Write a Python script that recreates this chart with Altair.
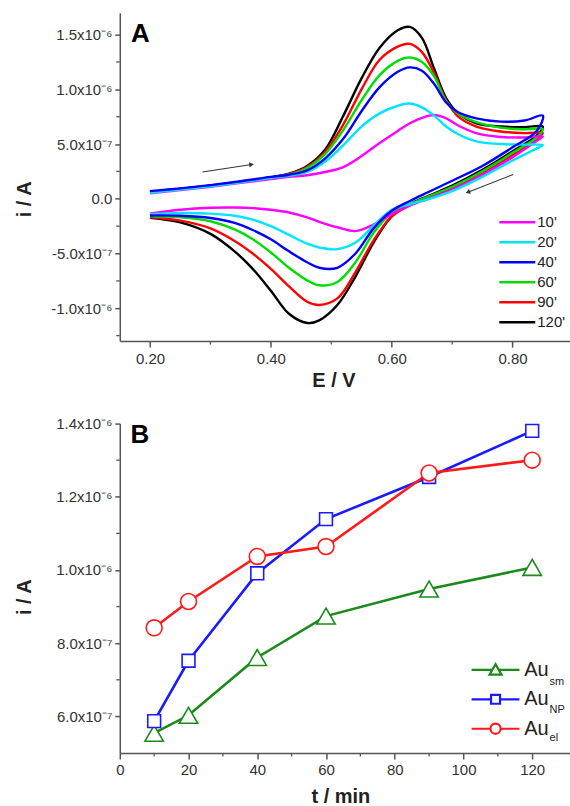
import altair as alt
import pandas as pd

FONT = "Liberation Sans"
AX = "#555555"

# ---------------- Panel A: cyclic voltammograms (current in microampere) ----------------
curves_a = ["10'", "20'", "40'", "60'", "90'", "120'"]
colors_a = ["#ff00ff", "#00e5ff", "#0000ff", "#00dd00", "#ff0000", "#000000"]
draw_order_a = ["120'", "90'", "60'", "10'", "20'", "40'"]

E_fwd = [0.20, 0.25, 0.30, 0.35, 0.40, 0.43, 0.46, 0.49, 0.52, 0.55, 0.58,
         0.61, 0.63, 0.65, 0.67, 0.69, 0.71, 0.74, 0.78, 0.82, 0.85]
E_rev = [0.84, 0.80, 0.75, 0.70, 0.66, 0.63, 0.60, 0.57, 0.54, 0.51, 0.48,
         0.46, 0.43, 0.40, 0.37, 0.34, 0.30, 0.25, 0.20]

fwd_10 = [0.05, 0.08, 0.11, 0.145, 0.18, 0.20, 0.215, 0.245, 0.29, 0.39, 0.51,
          0.62, 0.69, 0.74, 0.765, 0.735, 0.67, 0.60, 0.565, 0.56, 0.57]
rev_10 = [0.53, 0.38, 0.22, 0.085, 0.0, -0.06, -0.14, -0.235, -0.295, -0.26, -0.21,
          -0.17, -0.125, -0.10, -0.085, -0.08, -0.082, -0.10, -0.135]
fwd_20 = [0.055, 0.085, 0.115, 0.15, 0.19, 0.21, 0.245, 0.34, 0.49, 0.66, 0.78,
          0.85, 0.87, 0.835, 0.76, 0.66, 0.59, 0.525, 0.50, 0.495, 0.49]
rev_20 = [0.46, 0.35, 0.20, 0.07, -0.005, -0.05, -0.10, -0.245, -0.40, -0.46, -0.445,
          -0.41, -0.33, -0.25, -0.19, -0.155, -0.135, -0.13, -0.143]
fwd_40 = [0.07, 0.095, 0.125, 0.16, 0.20, 0.22, 0.26, 0.37, 0.55, 0.80, 1.02,
          1.16, 1.20, 1.17, 1.05, 0.88, 0.79, 0.735, 0.705, 0.715, 0.76]
rev_40 = [0.62, 0.47, 0.30, 0.165, 0.06, -0.02, -0.11, -0.27, -0.50, -0.63, -0.63,
          -0.58, -0.48, -0.37, -0.285, -0.22, -0.175, -0.155, -0.152]
fwd_60 = [0.06, 0.09, 0.12, 0.155, 0.195, 0.22, 0.28, 0.41, 0.63, 0.90, 1.13,
          1.26, 1.29, 1.25, 1.12, 0.89, 0.78, 0.70, 0.65, 0.635, 0.635]
rev_60 = [0.56, 0.42, 0.252, 0.11, 0.02, -0.05, -0.13, -0.31, -0.58, -0.76, -0.79,
          -0.745, -0.63, -0.49, -0.37, -0.28, -0.205, -0.17, -0.161]
fwd_90 = [0.06, 0.09, 0.12, 0.155, 0.195, 0.225, 0.29, 0.43, 0.68, 1.00, 1.27,
          1.39, 1.415, 1.34, 1.15, 0.90, 0.75, 0.66, 0.615, 0.60, 0.60]
rev_90 = [0.55, 0.40, 0.24, 0.10, 0.01, -0.06, -0.16, -0.38, -0.67, -0.91, -0.97,
          -0.94, -0.80, -0.64, -0.50, -0.385, -0.27, -0.20, -0.168]
fwd_120 = [0.06, 0.09, 0.12, 0.155, 0.195, 0.23, 0.30, 0.45, 0.76, 1.10, 1.38,
           1.54, 1.57, 1.47, 1.19, 0.92, 0.78, 0.69, 0.66, 0.655, 0.66]
rev_120 = [0.58, 0.434, 0.264, 0.12, 0.025, -0.05, -0.16, -0.40, -0.71, -0.97, -1.11,
           -1.135, -1.05, -0.84, -0.64, -0.48, -0.32, -0.215, -0.173]

cv_fwd = {"10'": fwd_10, "20'": fwd_20, "40'": fwd_40, "60'": fwd_60, "90'": fwd_90, "120'": fwd_120}
cv_rev = {"10'": rev_10, "20'": rev_20, "40'": rev_40, "60'": rev_60, "90'": rev_90, "120'": rev_120}

# scan-direction arrows (potential in V, current in microampere)
arrow_E0 = [0.287, 0.801]
arrow_E1 = [0.368, 0.726]
arrow_i0 = [0.245, 0.222]
arrow_i1 = [0.313, 0.060]
arrow_angle = [352.4, 158.5]

xa_ticks = [0.2, 0.4, 0.6, 0.8]
xa_minor = [0.3, 0.5, 0.7]
ya_ticks = [-1.0e-6, -5.0e-7, 0.0, 5.0e-7, 1.0e-6, 1.5e-6]
ya_labels = ["-1.0x10\u207b\u2076", "-5.0x10\u207b\u2077", "0.0",
             "5.0x10\u207b\u2077", "1.0x10\u207b\u2076", "1.5x10\u207b\u2076"]
ya_minor = [-1.25e-6, -7.5e-7, -2.5e-7, 2.5e-7, 7.5e-7, 1.25e-6]

# ---------------- Panel B: peak current vs time ----------------
t_min = [10, 20, 40, 60, 90, 120]
i_sm = [5.54e-7, 6.03e-7, 7.61e-7, 8.74e-7, 9.48e-7, 1.007e-6]
i_np = [5.87e-7, 7.52e-7, 9.91e-7, 1.139e-6, 1.254e-6, 1.380e-6]
i_el = [8.42e-7, 9.14e-7, 1.037e-6, 1.064e-6, 1.265e-6, 1.300e-6]
series_b = ["Au_sm", "Au_NP", "Au_el"]
subs_b = ["sm", "NP", "el"]
colors_b = ["#1a8a1a", "#1a1aff", "#ff1a1a"]

xb_ticks = [0, 20, 40, 60, 80, 100, 120]
xb_minor = [10, 30, 50, 70, 90, 110]
yb_ticks = [6.0e-7, 8.0e-7, 1.0e-6, 1.2e-6, 1.4e-6]
yb_labels = ["6.0x10\u207b\u2077", "8.0x10\u207b\u2077", "1.0x10\u207b\u2076",
             "1.2x10\u207b\u2076", "1.4x10\u207b\u2076"]
yb_minor = [7.0e-7, 9.0e-7, 1.1e-6, 1.3e-6]

# ---------------- layout constants ----------------
W = 451
HA = 329
HB = 330


def label_expr(vals, labels):
    expr = "''"
    for v, l in reversed(list(zip(vals, labels))):
        expr = f"abs(datum.value - ({v:.4e})) < 1e-10 ? '{l}' : {expr}"
    return expr


axis_style = dict(domainColor=AX, domainWidth=1.5, tickColor=AX, tickWidth=1.5,
                  labelFont=FONT, labelFontSize=15, labelColor="#333333",
                  titleFont=FONT, titleFontSize=20, titleFontWeight="bold",
                  titleColor="#222222", grid=False, labelFlush=False, labelOverlap=False)

# ---------------- build panel A ----------------
rows = []
for c in draw_order_a:
    pts = list(zip(E_fwd, cv_fwd[c])) + list(zip(E_rev, cv_rev[c]))
    for k, (e, i) in enumerate(pts):
        rows.append({"curve": c, "E": e, "i": i * 1e-6, "k": k})
df_a = pd.DataFrame(rows)

xa_scale = alt.Scale(domain=[0.15, 0.895], nice=False, zero=False)
ya_scale = alt.Scale(domain=[-1.3e-6, 1.7e-6], nice=False, zero=False)

xa = alt.X("E:Q", scale=xa_scale,
           axis=alt.Axis(values=xa_ticks, format=".2f", title="E / V", tickSize=6,
                         labelPadding=4, titleBaseline="middle", titleY=39.5, titleX=214,
                         **axis_style))
ya = alt.Y("i:Q", scale=ya_scale,
           axis=alt.Axis(values=ya_ticks, labelExpr=label_expr(ya_ticks, ya_labels),
                         title="i / A", tickSize=5, labelPadding=3, titleAngle=270,
                         titleAlign="center", titleBaseline="middle", titleX=-95,
                         titleY=186.5, **axis_style))
color_a = alt.Scale(domain=curves_a, range=colors_a)
col_of_a = dict(zip(curves_a, colors_a))

line_layers_a = []
for n, c in enumerate(draw_order_a):
    enc = dict(x=xa, y=ya) if n == 0 else dict(x=alt.X("E:Q", scale=xa_scale),
                                              y=alt.Y("i:Q", scale=ya_scale))
    line_layers_a.append(
        alt.Chart(df_a).transform_filter(alt.datum.curve == c).mark_line(
            strokeWidth=2.4, interpolate="catmull-rom", color=col_of_a[c]).encode(
            order="k:Q", **enc))

LINE_PATH = "M-3,0H3"
leg_a = dict(title=None, orient="none", legendX=390.7, legendY=202.5, direction="vertical",
             symbolSize=144, symbolStrokeWidth=2.5, symbolOpacity=1, labelFont=FONT,
             labelFontSize=15, labelColor="#222222", labelOffset=12.5, rowPadding=4, padding=0)
legend_layer_a = alt.Chart(df_a).mark_point(filled=False, strokeWidth=2.5, opacity=0).encode(
    x=alt.X("E:Q", scale=xa_scale), y=alt.Y("i:Q", scale=ya_scale),
    color=alt.Color("curve:N", scale=color_a, legend=alt.Legend(**leg_a)),
    shape=alt.Shape("curve:N", scale=alt.Scale(domain=curves_a, range=[LINE_PATH] * 6),
                    legend=alt.Legend(**leg_a)))

minor_xa = alt.Chart(pd.DataFrame({"v": xa_minor})).mark_rule(color=AX, strokeWidth=1.3).encode(
    x=alt.X("v:Q", scale=xa_scale), y=alt.value(HA), y2=alt.value(HA + 3.5))
minor_ya = alt.Chart(pd.DataFrame({"v": ya_minor})).mark_rule(color=AX, strokeWidth=1.3).encode(
    y=alt.Y("v:Q", scale=ya_scale), x=alt.value(0), x2=alt.value(-3.5))

df_arrow = pd.DataFrame({"E0": arrow_E0, "E1": arrow_E1,
                         "i0": [v * 1e-6 for v in arrow_i0], "i1": [v * 1e-6 for v in arrow_i1],
                         "ang": arrow_angle})
arrows = alt.Chart(df_arrow).mark_rule(color="#333333", strokeWidth=1.1).encode(
    x=alt.X("E0:Q", scale=xa_scale), x2="E1:Q",
    y=alt.Y("i0:Q", scale=ya_scale), y2="i1:Q")
heads = alt.Chart(df_arrow).mark_point(shape="triangle-right", filled=True, color="#333333",
                                       size=28, opacity=1).encode(
    x=alt.X("E1:Q", scale=xa_scale), y=alt.Y("i1:Q", scale=ya_scale),
    angle=alt.Angle("ang:Q", scale=None))

letter_a = alt.Chart(pd.DataFrame({"t": ["A"]})).mark_text(
    font=FONT, fontSize=26, fontWeight="bold", align="center", baseline="middle",
    color="black").encode(text="t:N", x=alt.value(20.7), y=alt.value(21.5))

panel_a = alt.layer(*line_layers_a, minor_xa, minor_ya, arrows, heads, letter_a,
                    legend_layer_a).properties(width=W, height=HA)

# ---------------- build panel B ----------------
rows_b = []
for s, vals in zip(series_b, [i_sm, i_np, i_el]):
    for t, v in zip(t_min, vals):
        rows_b.append({"series": s, "t": t, "i": v})
df_b = pd.DataFrame(rows_b)

xb_scale = alt.Scale(domain=[0, 131], nice=False, zero=False)
yb_scale = alt.Scale(domain=[5.0e-7, 1.4e-6], nice=False, zero=False)
color_b = alt.Scale(domain=series_b, range=colors_b)

xb = alt.X("t:Q", scale=xb_scale,
           axis=alt.Axis(values=xb_ticks, format="d", title="t / min", tickSize=6,
                         labelPadding=4, titleBaseline="middle", titleY=43.7, titleX=221,
                         **axis_style))
yb = alt.Y("i:Q", scale=yb_scale,
           axis=alt.Axis(values=yb_ticks, labelExpr=label_expr(yb_ticks, yb_labels),
                         title="i / A", tickSize=5, labelPadding=3, titleAngle=270,
                         titleAlign="center", titleBaseline="middle", titleX=-95,
                         titleY=173.4, **axis_style))

shapes_b = ["triangle-up", "square", "circle"]
sizes_b = [340, 165, 255]
line_layers_b = []
point_layers = []
for n, (s, shp, col, sz) in enumerate(zip(series_b, shapes_b, colors_b, sizes_b)):
    enc = dict(x=xb, y=yb) if n == 0 else dict(x=alt.X("t:Q", scale=xb_scale),
                                              y=alt.Y("i:Q", scale=yb_scale))
    line_layers_b.append(
        alt.Chart(df_b).transform_filter(alt.datum.series == s).mark_line(
            strokeWidth=2.6, color=col).encode(**enc))
    point_layers.append(
        alt.Chart(df_b).transform_filter(alt.datum.series == s).mark_point(
            shape=shp, filled=True, fill="white", stroke=col, strokeWidth=1.6, size=sz,
            opacity=1).encode(x=alt.X("t:Q", scale=xb_scale),
                              y=alt.Y("i:Q", scale=yb_scale)))

TRI = "M-4,0H-0.54M0.54,0H4M0,-0.95L1,0.8H-1Z"
SQR = "M-4,0H-0.75M0.75,0H4M-0.75,-0.75H0.75V0.75H-0.75Z"
CIR = "M-4,0H-0.85M0.85,0H4M-0.85,0A0.85,0.85,0,1,0,0.85,0A0.85,0.85,0,1,0,-0.85,0Z"
leg_b = dict(title=None, orient="none", legendX=366.4, legendY=236.7, direction="vertical",
             symbolSize=144, symbolStrokeWidth=2.2, symbolOpacity=1, labelFont=FONT,
             labelFontSize=20, labelColor="#222222", labelOffset=18.8, rowPadding=9.5,
             padding=0, labelExpr="'Au'")
legend_layer_b = alt.Chart(df_b).mark_point(filled=False, strokeWidth=2.2, opacity=0).encode(
    x=alt.X("t:Q", scale=xb_scale), y=alt.Y("i:Q", scale=yb_scale),
    color=alt.Color("series:N", scale=color_b, legend=alt.Legend(**leg_b)),
    shape=alt.Shape("series:N", scale=alt.Scale(domain=series_b, range=[TRI, SQR, CIR]),
                    legend=alt.Legend(**leg_b)))

sub_layers = []
for n, sub in enumerate(subs_b):
    sub_layers.append(
        alt.Chart(pd.DataFrame({"s": [sub]})).mark_text(
            font=FONT, fontSize=11, align="left", baseline="middle", color="#222222").encode(
            text="s:N", x=alt.value(430.5), y=alt.value(259 + 28 * n)))

minor_xb = alt.Chart(pd.DataFrame({"v": xb_minor})).mark_rule(color=AX, strokeWidth=1.3).encode(
    x=alt.X("v:Q", scale=xb_scale), y=alt.value(HB), y2=alt.value(HB + 3.5))
minor_yb = alt.Chart(pd.DataFrame({"v": yb_minor})).mark_rule(color=AX, strokeWidth=1.3).encode(
    y=alt.Y("v:Q", scale=yb_scale), x=alt.value(0), x2=alt.value(-3.5))

letter_b = alt.Chart(pd.DataFrame({"t": ["B"]})).mark_text(
    font=FONT, fontSize=26, fontWeight="bold", align="center", baseline="middle",
    color="black").encode(text="t:N", x=alt.value(20), y=alt.value(11.7))

panel_b = alt.layer(*line_layers_b, *point_layers, *sub_layers, minor_xb, minor_yb,
                    letter_b, legend_layer_b).properties(width=W, height=HB)

chart = alt.vconcat(panel_a, panel_b, spacing=82.6, bounds="flush").resolve_scale(
    color="independent", shape="independent"
).properties(
    padding={"left": 14, "top": 12, "right": 0, "bottom": 0}
).configure(font=FONT, background="white").configure_view(stroke=None)

chart.save("out.html", embed_options={"renderer": "svg", "actions": False})
